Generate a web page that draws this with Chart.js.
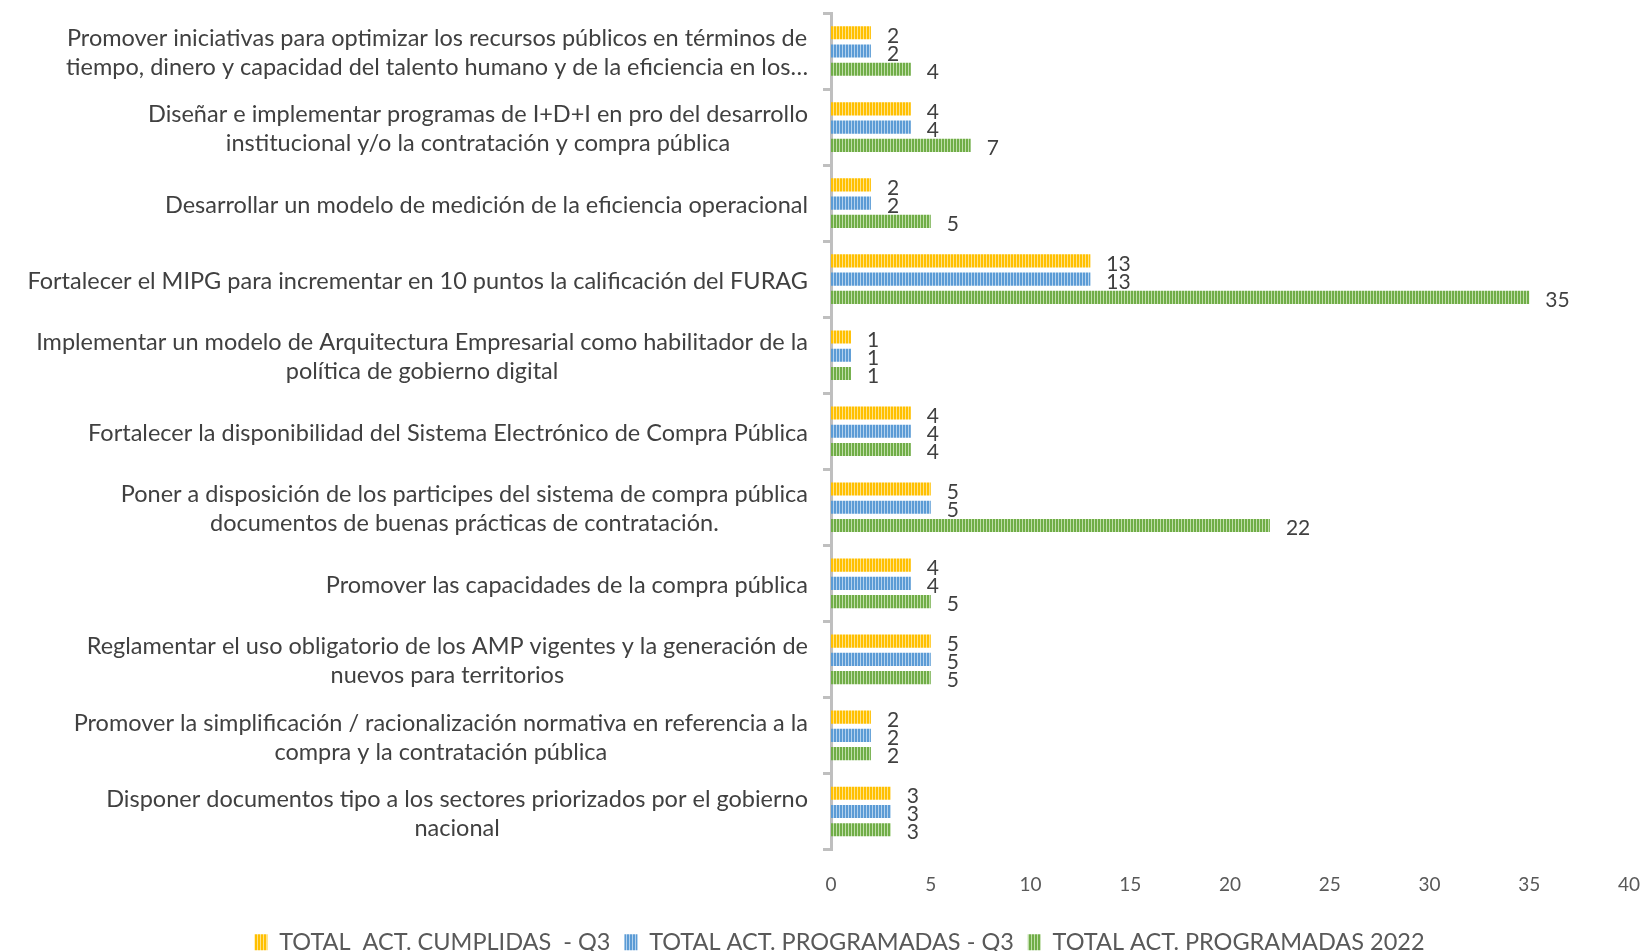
<!DOCTYPE html>
<html>
<head>
<meta charset="utf-8">
<script src="https://cdn.jsdelivr.net/npm/chart.js@4"></script>
<style>
    body { margin: 0; background: #fff; }
</style>
</head>
<body>
<canvas id="barChart" width="1645" height="951"></canvas>
<script>
const $ = id => document.getElementById(id);

// 数据
const categories = [
    ["Promover iniciativas para optimizar los recursos públicos en términos de", "tiempo, dinero y capacidad del talento humano y de la eficiencia en los…"],
    ["Diseñar e implementar programas de I+D+I en pro del desarrollo", "institucional y/o la contratación y compra pública"],
    ["Desarrollar un modelo de medición de la eficiencia operacional"],
    ["Fortalecer el MIPG para incrementar en 10 puntos la calificación del FURAG"],
    ["Implementar un modelo de Arquitectura Empresarial como habilitador de la", "política de gobierno digital"],
    ["Fortalecer la disponibilidad del Sistema Electrónico de Compra Pública"],
    ["Poner a disposición de los participes del sistema de compra pública", "documentos de buenas prácticas de contratación."],
    ["Promover las capacidades de la compra pública"],
    ["Reglamentar el uso obligatorio de los AMP vigentes y la generación de", "nuevos para territorios"],
    ["Promover la simplificación / racionalización normativa en referencia a la", "compra y la contratación pública"],
    ["Disponer documentos tipo a los sectores priorizados por el gobierno", "nacional"]
];
const cumplidasQ3 = [2, 4, 2, 13, 1, 4, 5, 4, 5, 2, 3];
const programadasQ3 = [2, 4, 2, 13, 1, 4, 5, 4, 5, 2, 3];
const programadas2022 = [4, 7, 5, 35, 1, 4, 22, 5, 5, 2, 3];
const xTicks = [0, 5, 10, 15, 20, 25, 30, 35, 40];

const FONT = "Lato, 'Noto Sans', sans-serif";

// 竖条纹填充
const stripes = (color, light) => {
    const c = document.createElement('canvas');
    c.width = 3;
    c.height = 4;
    const g = c.getContext('2d');
    g.fillStyle = color;
    g.fillRect(0, 0, 3, 4);
    g.fillStyle = light;
    g.fillRect(2, 0, 1, 4);
    return g.createPattern(c, 'repeat');
};

// 数值标签
const valueLabels = {
    id: 'valueLabels',
    afterDatasetsDraw(chart) {
        const ctx = chart.ctx;
        ctx.save();
        ctx.font = `21px ${FONT}`;
        ctx.fillStyle = '#404040';
        ctx.textAlign = 'left';
        ctx.textBaseline = 'middle';
        chart.data.datasets.forEach((ds, i) => {
            chart.getDatasetMeta(i).data.forEach((bar, j) => {
                ctx.fillText(ds.data[j], bar.x + 16, bar.y + 3);
            });
        });
        ctx.restore();
    }
};

// 分类标签：每个标签内部居中，右边对齐
const categoryLabels = {
    id: 'categoryLabels',
    afterDraw(chart) {
        const ctx = chart.ctx;
        const y = chart.scales.y;
        const right = 808;
        const lineH = 29;
        ctx.save();
        ctx.font = `23.5px ${FONT}`;
        ctx.fillStyle = '#404040';
        ctx.textAlign = 'center';
        ctx.textBaseline = 'middle';
        categories.forEach((lines, i) => {
            const widest = Math.max(...lines.map(l => ctx.measureText(l).width));
            const cx = right - widest / 2;
            const cy = y.getPixelForValue(i) + 2;
            lines.forEach((l, k) => {
                ctx.fillText(l, cx, cy + (k - (lines.length - 1) / 2) * lineH);
            });
        });
        ctx.restore();
    }
};

window.onload = () => {
    const ctx = $('barChart').getContext('2d');
    new Chart(ctx, {
        type: 'bar',
        data: {
            labels: categories,
            datasets: [
                {
                    label: 'TOTAL  ACT. CUMPLIDAS  - Q3',
                    data: cumplidasQ3,
                    backgroundColor: stripes('#FFC000', '#FFE28A')
                },
                {
                    label: 'TOTAL ACT. PROGRAMADAS - Q3',
                    data: programadasQ3,
                    backgroundColor: stripes('#5B9BD5', '#B4D2EE')
                },
                {
                    label: 'TOTAL ACT. PROGRAMADAS 2022',
                    data: programadas2022,
                    backgroundColor: stripes('#70AD47', '#C0DEAA')
                }
            ]
        },
        options: {
            indexAxis: 'y',
            responsive: false,
            animation: false,
            devicePixelRatio: 1,
            categoryPercentage: 0.72,
            barPercentage: 0.72,
            layout: {
                padding: {top: 13, right: 0, bottom: -13, left: 34}
            },
            plugins: {
                legend: {
                    position: 'bottom',
                    labels: {
                        color: '#595959',
                        font: {size: 23.5, family: FONT},
                        boxWidth: 13,
                        boxHeight: 16,
                        padding: 14
                    }
                },
                tooltip: {enabled: false}
            },
            scales: {
                x: {
                    min: 0,
                    max: 40,
                    afterBuildTicks: s => {
                        s.ticks = xTicks.map(v => ({value: v}));
                    },
                    afterFit: s => {
                        s.height = 67;
                        s.paddingRight = 16;
                    },
                    grid: {display: false},
                    border: {display: false},
                    ticks: {
                        color: '#595959',
                        font: {size: 19, family: FONT},
                        padding: 16
                    }
                },
                y: {
                    afterFit: s => {
                        s.width = 797;
                    },
                    ticks: {display: false},
                    grid: {
                        offset: true,
                        drawOnChartArea: false,
                        tickLength: 8,
                        color: '#BFBFBF',
                        lineWidth: 3
                    },
                    border: {color: '#BFBFBF', width: 3}
                }
            }
        },
        plugins: [valueLabels, categoryLabels]
    });
};
</script>
</body>
</html>
